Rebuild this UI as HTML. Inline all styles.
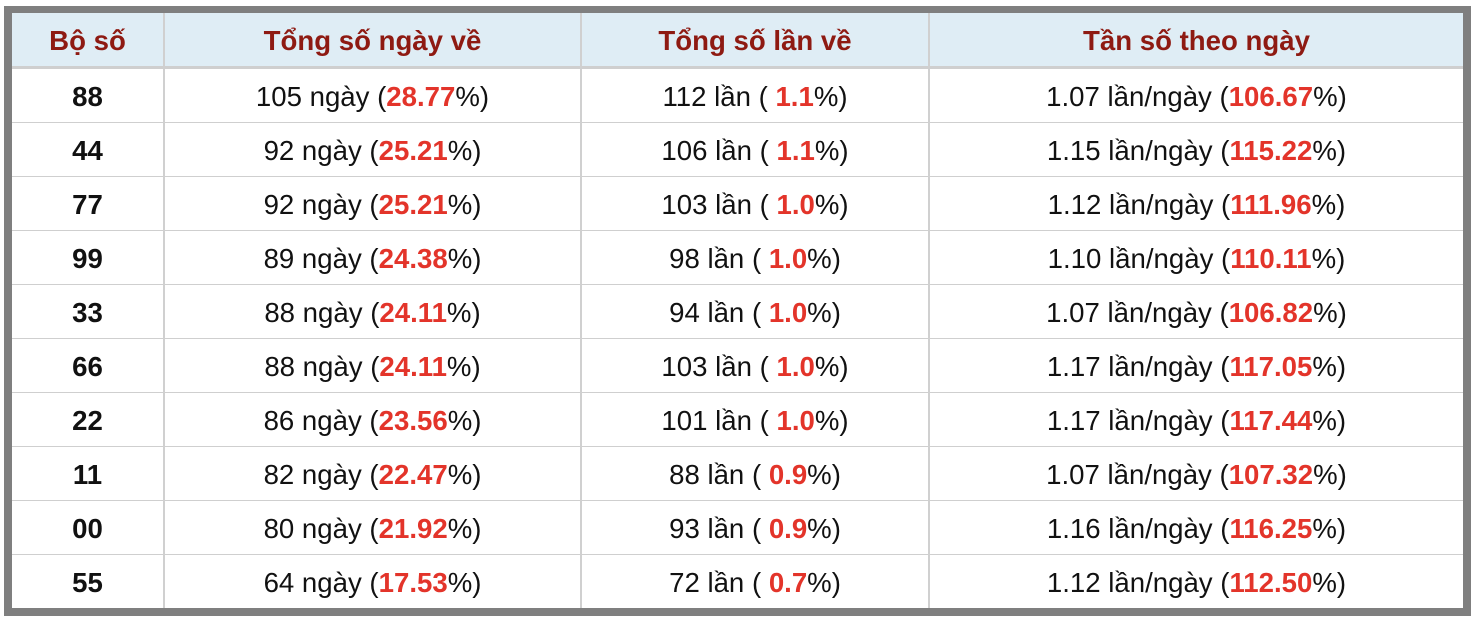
<!DOCTYPE html>
<html><head><meta charset="utf-8"><style>
html,body{margin:0;padding:0;background:#fff;width:1474px;height:624px;overflow:hidden}
.box{position:absolute;left:4px;top:6px;width:1451px;height:595px;border:8px solid #7f7f7f;border-top-width:7px;border-left-width:8px}
table{border-collapse:collapse;width:1451px;font-family:"Liberation Sans",Arial,Helvetica,sans-serif;font-size:27.6px;color:#111;table-layout:fixed}
th{background:#dfedf5;color:#8e1a12;font-weight:bold;height:51px;border-bottom:3px solid #cfcfcf;border-left:2px solid #d0d0d0;padding:2px 0 0 0}
td{height:50px;border-top:1px solid #cfcfcf;border-left:2px solid #d0d0d0;text-align:center;padding:3px 0 0 0;white-space:nowrap}
tr:nth-child(2) td{border-top:none}
th:first-child,td:first-child{border-left:none}
td:first-child{font-weight:bold}
b{color:#e3342a}
</style></head><body><div class="box"><table>
<colgroup><col style="width:152px"><col style="width:417px"><col style="width:348px"><col style="width:534px"></colgroup>
<tr><th>Bộ số</th><th>Tổng số ngày về</th><th>Tổng số lần về</th><th>Tần số theo ngày</th></tr>
<tr><td>88</td><td>105 ngày (<b>28.77</b>%)</td><td>112 lần ( <b>1.1</b>%)</td><td>1.07 lần/ngày (<b>106.67</b>%)</td></tr>
<tr><td>44</td><td>92 ngày (<b>25.21</b>%)</td><td>106 lần ( <b>1.1</b>%)</td><td>1.15 lần/ngày (<b>115.22</b>%)</td></tr>
<tr><td>77</td><td>92 ngày (<b>25.21</b>%)</td><td>103 lần ( <b>1.0</b>%)</td><td>1.12 lần/ngày (<b>111.96</b>%)</td></tr>
<tr><td>99</td><td>89 ngày (<b>24.38</b>%)</td><td>98 lần ( <b>1.0</b>%)</td><td>1.10 lần/ngày (<b>110.11</b>%)</td></tr>
<tr><td>33</td><td>88 ngày (<b>24.11</b>%)</td><td>94 lần ( <b>1.0</b>%)</td><td>1.07 lần/ngày (<b>106.82</b>%)</td></tr>
<tr><td>66</td><td>88 ngày (<b>24.11</b>%)</td><td>103 lần ( <b>1.0</b>%)</td><td>1.17 lần/ngày (<b>117.05</b>%)</td></tr>
<tr><td>22</td><td>86 ngày (<b>23.56</b>%)</td><td>101 lần ( <b>1.0</b>%)</td><td>1.17 lần/ngày (<b>117.44</b>%)</td></tr>
<tr><td>11</td><td>82 ngày (<b>22.47</b>%)</td><td>88 lần ( <b>0.9</b>%)</td><td>1.07 lần/ngày (<b>107.32</b>%)</td></tr>
<tr><td>00</td><td>80 ngày (<b>21.92</b>%)</td><td>93 lần ( <b>0.9</b>%)</td><td>1.16 lần/ngày (<b>116.25</b>%)</td></tr>
<tr><td>55</td><td>64 ngày (<b>17.53</b>%)</td><td>72 lần ( <b>0.7</b>%)</td><td>1.12 lần/ngày (<b>112.50</b>%)</td></tr>
</table></div></body></html>
